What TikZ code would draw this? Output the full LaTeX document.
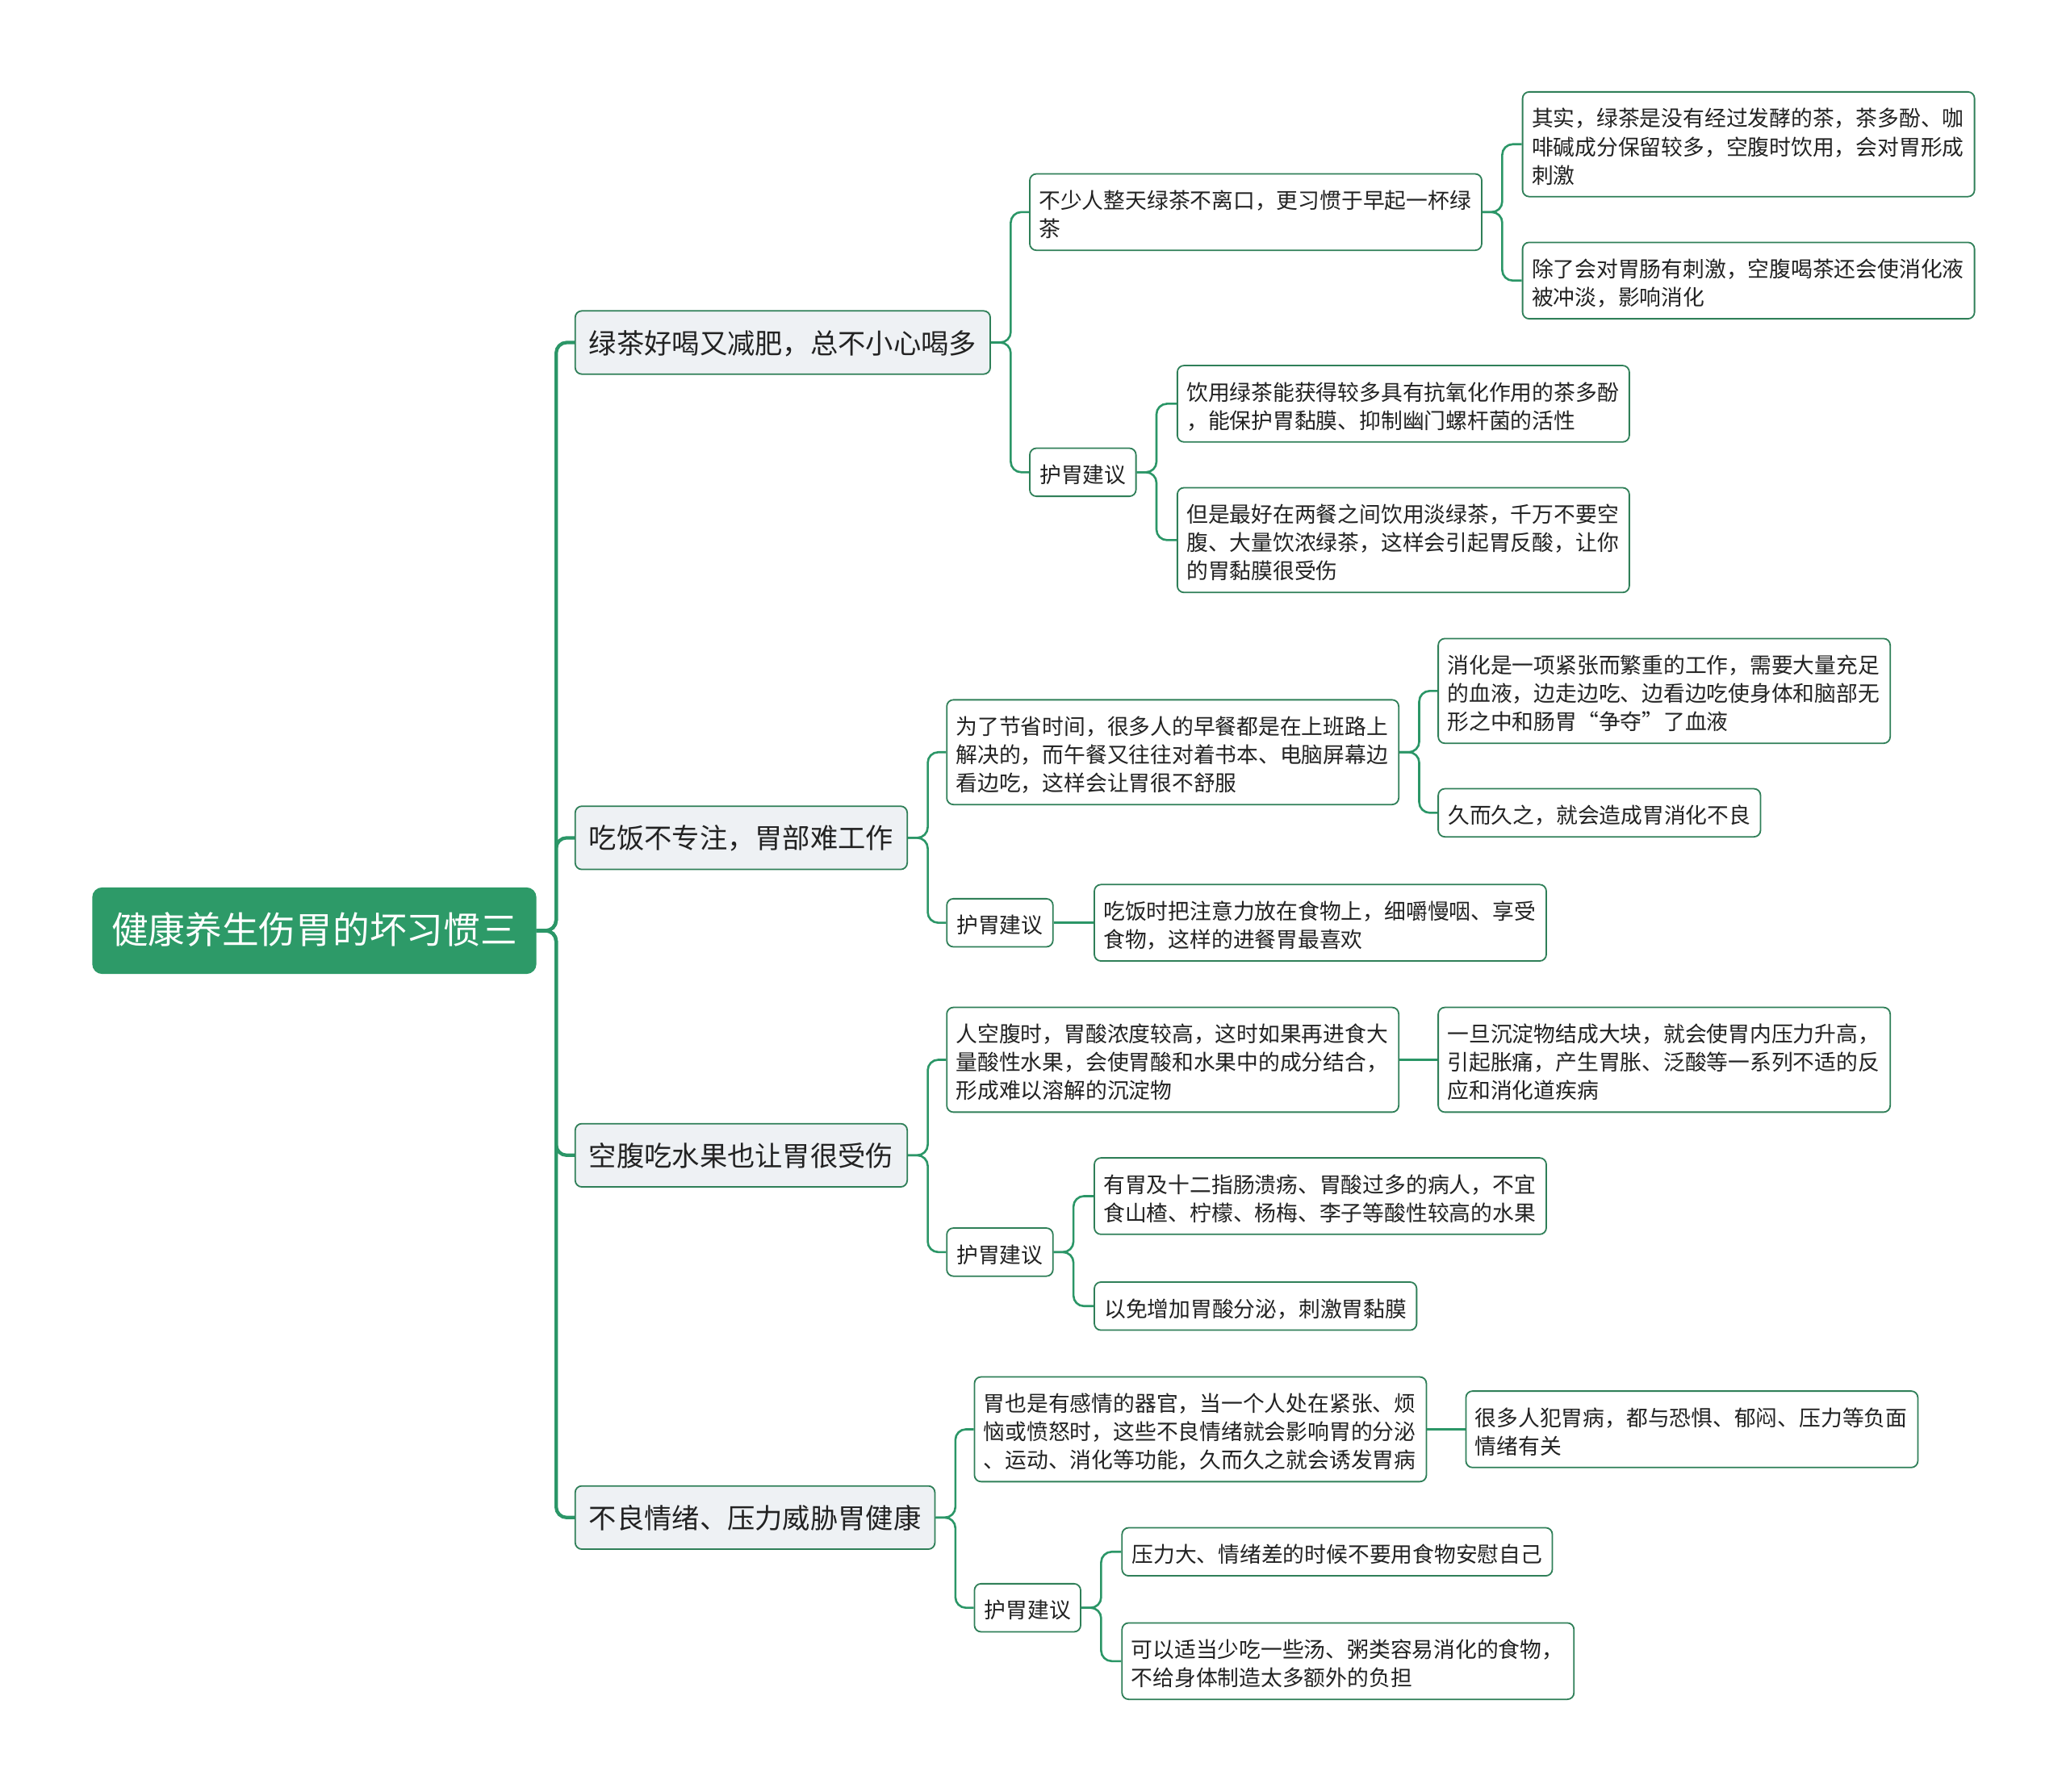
\documentclass[tikz,border=0pt]{standalone}
\usepackage{fontspec}
\setmainfont{Noto Sans CJK SC}
\usepackage{tikz}

\definecolor{mapgreen}{HTML}{2B9667}
\definecolor{rootfill}{HTML}{2D9A68}
\definecolor{topicfill}{HTML}{EEF1F4}
\definecolor{boxline}{HTML}{2F7F58}
\definecolor{inkgray}{HTML}{222222}

\tikzset{
  base/.style 2 args={draw=boxline, line width=1.1pt, rounded corners=5pt, anchor=west, align=left, text=inkgray,
    execute at begin node={\rule{0pt}{#1}},
    execute at end node={\rule[-#2]{0pt}{0pt}}},
  rootbox/.style={base={27.8pt}{7.8pt}, fill=rootfill, draw=rootfill, text=white, rounded corners=7pt,
    font=\fontsize{28}{36}\selectfont, inner xsep=14pt, inner ysep=14.5pt},
  topic/.style={base={21.8pt}{5.2pt}, fill=topicfill, font=\fontsize{21}{27}\selectfont, inner xsep=10.5pt, inner ysep=10.5pt},
  leaf/.style={base={18.9pt}{2.6pt}, fill=white, font=\fontsize{16.4}{21.5}\selectfont, inner xsep=7.5pt, inner ysep=7.5pt},
  note/.style={leaf, text width=329pt, inner xsep=7pt},
  link/.style={draw=mapgreen, line width=1.6pt, rounded corners=8pt},
  trunk/.style={link, line width=2.6pt}
}

\begin{document}
\begin{tikzpicture}[x=1pt, y=-1pt]
	\useasboundingbox (0,0) rectangle (1568,1360);
	
	% Root and main topics
	\node (root) [rootbox] at (70,706.5) {健康养生伤胃的坏习惯三};
	\node (tea) [topic] at (436,260) {绿茶好喝又减肥，总不小心喝多};
	\node (eat) [topic] at (436,636) {吃饭不专注，胃部难工作};
	\node (fruit) [topic] at (436,877) {空腹吃水果也让胃很受伤};
	\node (mood) [topic] at (436,1152) {不良情绪、压力威胁胃健康};
	
	\foreach \t in {tea,eat,fruit,mood}
		\draw[trunk] (root.east) -- ++(15,0) |- (\t.west);
	
	% Green tea
	\node (tea-a) [note] at (781,161) {不少人整天绿茶不离口，更习惯于早起一杯绿\\茶};
	\node (tea-a1) [note] at (1155,109.5) {其实，绿茶是没有经过发酵的茶，茶多酚、咖\\啡碱成分保留较多，空腹时饮用，会对胃形成\\刺激};
	\node (tea-a2) [note] at (1155,213) {除了会对胃肠有刺激，空腹喝茶还会使消化液\\被冲淡，影响消化};
	\node (tea-tip) [leaf] at (781,358.5) {护胃建议};
	\node (tea-tip1) [note] at (893,306.5) {饮用绿茶能获得较多具有抗氧化作用的茶多酚\\，能保护胃黏膜、抑制幽门螺杆菌的活性};
	\node (tea-tip2) [note] at (893,410) {但是最好在两餐之间饮用淡绿茶，千万不要空\\腹、大量饮浓绿茶，这样会引起胃反酸，让你\\的胃黏膜很受伤};
	
	\draw[link] (tea.east) -- ++(15,0) |- (tea-a.west);
	\draw[link] (tea.east) -- ++(15,0) |- (tea-tip.west);
	\draw[link] (tea-a.east) -- ++(15,0) |- (tea-a1.west);
	\draw[link] (tea-a.east) -- ++(15,0) |- (tea-a2.west);
	\draw[link] (tea-tip.east) -- ++(15,0) |- (tea-tip1.west);
	\draw[link] (tea-tip.east) -- ++(15,0) |- (tea-tip2.west);
	
	% Eating while distracted
	\node (eat-a) [note] at (718,571) {为了节省时间，很多人的早餐都是在上班路上\\解决的，而午餐又往往对着书本、电脑屏幕边\\看边吃，这样会让胃很不舒服};
	\node (eat-a1) [note] at (1091,524.5) {消化是一项紧张而繁重的工作，需要大量充足\\的血液，边走边吃、边看边吃使身体和脑部无\\形之中和肠胃“争夺”了血液};
	\node (eat-a2) [leaf] at (1091,617) {久而久之，就会造成胃消化不良};
	\node (eat-tip) [leaf] at (718,700.5) {护胃建议};
	\node (eat-tip1) [note] at (830,700.5) {吃饭时把注意力放在食物上，细嚼慢咽、享受\\食物，这样的进餐胃最喜欢};
	
	\draw[link] (eat.east) -- ++(15,0) |- (eat-a.west);
	\draw[link] (eat.east) -- ++(15,0) |- (eat-tip.west);
	\draw[link] (eat-a.east) -- ++(15,0) |- (eat-a1.west);
	\draw[link] (eat-a.east) -- ++(15,0) |- (eat-a2.west);
	\draw[link] (eat-tip.east) -- (eat-tip1.west);
	
	% Fruit on an empty stomach
	\node (fruit-a) [note] at (718,804.5) {人空腹时，胃酸浓度较高，这时如果再进食大\\量酸性水果，会使胃酸和水果中的成分结合，\\形成难以溶解的沉淀物};
	\node (fruit-a1) [note] at (1091,804.5) {一旦沉淀物结成大块，就会使胃内压力升高，\\引起胀痛，产生胃胀、泛酸等一系列不适的反\\应和消化道疾病};
	\node (fruit-tip) [leaf] at (718,950.5) {护胃建议};
	\node (fruit-tip1) [note] at (830,908) {有胃及十二指肠溃疡、胃酸过多的病人，不宜\\食山楂、柠檬、杨梅、李子等酸性较高的水果};
	\node (fruit-tip2) [leaf] at (830,991.5) {以免增加胃酸分泌，刺激胃黏膜};
	
	\draw[link] (fruit.east) -- ++(15,0) |- (fruit-a.west);
	\draw[link] (fruit.east) -- ++(15,0) |- (fruit-tip.west);
	\draw[link] (fruit-a.east) -- (fruit-a1.west);
	\draw[link] (fruit-tip.east) -- ++(15,0) |- (fruit-tip1.west);
	\draw[link] (fruit-tip.east) -- ++(15,0) |- (fruit-tip2.west);
	
	% Bad mood and stress
	\node (mood-a) [note] at (739,1085) {胃也是有感情的器官，当一个人处在紧张、烦\\恼或愤怒时，这些不良情绪就会影响胃的分泌\\、运动、消化等功能，久而久之就会诱发胃病};
	\node (mood-a1) [note] at (1112,1085) {很多人犯胃病，都与恐惧、郁闷、压力等负面\\情绪有关};
	\node (mood-tip) [leaf] at (739,1220.5) {护胃建议};
	\node (mood-tip1) [leaf] at (851,1178) {压力大、情绪差的时候不要用食物安慰自己};
	\node (mood-tip2) [note] at (851,1261) {可以适当少吃一些汤、粥类容易消化的食物，\\不给身体制造太多额外的负担};
	
	\draw[link] (mood.east) -- ++(15,0) |- (mood-a.west);
	\draw[link] (mood.east) -- ++(15,0) |- (mood-tip.west);
	\draw[link] (mood-a.east) -- (mood-a1.west);
	\draw[link] (mood-tip.east) -- ++(15,0) |- (mood-tip1.west);
	\draw[link] (mood-tip.east) -- ++(15,0) |- (mood-tip2.west);
\end{tikzpicture}
\end{document}
